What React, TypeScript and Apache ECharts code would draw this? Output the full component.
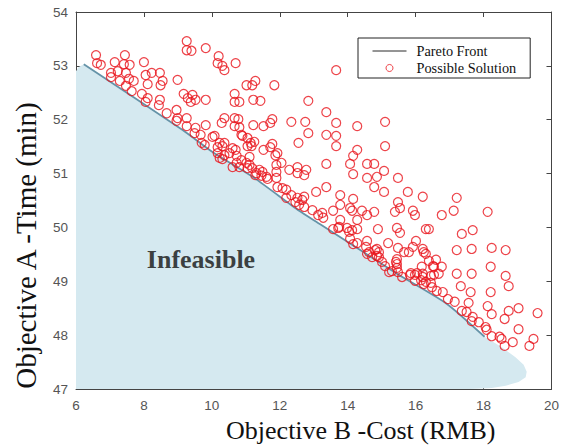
import React, { useEffect, useRef } from "react";
import * as echarts from "echarts";

// Axis ranges (tick labels 6..20 step 2, 47..54 step 1)
const costAxis = { min: 6, max: 20, step: 2 };
const timeAxis = { min: 47, max: 54, step: 1 };

const xTitle = "Objective B -Cost (RMB)";
const yTitle = "Objective A -Time (min)";
const regionLabel = "Infeasible";
const regionLabelPos = [9.68, 49.41];

// Pareto front
const paretoCost = [6.23, 9.14, 10.02, 11.2, 12.57, 13.19, 14.54, 15.45, 16.92, 18.03];
const paretoTime = [53.03, 51.81, 51.4, 50.94, 50.31, 50.06, 49.51, 49.14, 48.58, 47.97];

// Infeasible region boundary
const boundaryCost = [6, 6, 6.08, 6.23, 9.14, 10.02, 11.2, 12.57, 13.19, 14.54, 15.45, 16.92, 18.03, 18.53, 18.94, 19.18, 19.27, 19.24, 19.03, 18.65, 18.24, 17.6];
const boundaryTime = [47, 52.9, 52.98, 53.03, 51.81, 51.4, 50.94, 50.31, 50.06, 49.51, 49.14, 48.58, 47.97, 47.78, 47.59, 47.45, 47.32, 47.22, 47.13, 47.06, 47.02, 47];

// Possible solutions (cost, time)
const solutionCost = [
  6.59, 6.62, 6.73, 7.44, 7.14, 7.41, 7.58, 8.0, 7.03, 7.03, 7.23, 7.47, 7.29, 7.56, 7.7, 7.47, 7.64, 8.05, 8.23, 8.47,
  8.55, 8.49, 8.11, 8.99, 7.94, 8.11, 8.05, 8.47, 8.44, 8.67, 8.96, 8.99, 8.96, 9.26, 9.26, 9.52, 9.49, 9.82, 9.67, 9.7,
  9.79, 10.08, 10.23, 10.31, 9.17, 9.29, 9.43, 9.52, 9.38, 9.82, 9.26, 9.26, 9.4, 9.82, 10.2, 10.17, 10.31, 10.37, 10.7, 10.67,
  10.67, 10.37, 10.29, 10.67, 10.67, 10.17, 10.37, 10.52, 10.61, 11.02, 11.19, 11.28, 11.84, 10.81, 11.22, 11.43, 12.84, 13.37, 13.66, 10.78,
  10.81, 11.22, 11.52, 11.72, 11.78, 12.34, 12.75, 12.84, 13.37, 13.66, 13.66, 14.28, 15.1, 10.9, 11.05, 11.14, 11.17, 11.05, 11.52, 11.78,
  11.72, 11.93, 12.55, 13.66, 14.28, 14.16, 15.1, 10.7, 10.73, 10.02, 10.17, 10.23, 10.73, 10.87, 11.02, 11.05, 10.81, 11.19, 11.31, 11.49,
  11.61, 11.9, 11.93, 11.9, 11.87, 10.61, 11.11, 11.25, 10.37, 10.31, 11.11, 11.28, 11.4, 11.46, 11.64, 10.87, 12.05, 12.28, 12.52, 12.52,
  12.72, 12.78, 12.08, 12.19, 12.34, 12.19, 12.52, 12.66, 12.72, 12.57, 11.9, 12.46, 12.96, 13.13, 13.28, 13.78, 14.28, 13.37, 14.07, 14.16,
  14.57, 14.78, 14.57, 14.86, 15.07, 15.48, 13.37, 13.07, 13.78, 14.78, 15.07, 15.77, 16.21, 17.21, 15.48, 14.16, 13.78, 13.57, 14.07, 14.13,
  14.42, 14.57, 14.78, 15.39, 15.54, 15.92, 15.98, 16.77, 17.12, 18.12, 12.72, 13.25, 13.57, 13.72, 13.98, 14.28, 14.89, 15.45, 16.3, 16.39,
  17.36, 17.68, 14.07, 14.16, 14.28, 14.57, 14.54, 14.57, 14.86, 14.86, 14.92, 15.19, 15.48, 15.45, 15.45, 15.66, 15.92, 16.01, 16.21, 16.3,
  16.39, 16.51, 16.77, 17.21, 17.65, 18.24, 18.65, 15.01, 15.1, 15.3, 15.48, 15.6, 15.83, 15.98, 15.98, 16.18, 16.21, 16.21, 16.45, 16.68,
  16.24, 16.48, 16.62, 16.8, 16.95, 17.15, 17.21, 17.65, 17.33, 17.62, 18.21, 18.74, 17.56, 17.36, 17.5, 17.68, 17.65, 17.86, 18.06, 18.09,
  18.12, 18.24, 18.24, 18.47, 18.53, 18.62, 18.74, 19.03, 19.03, 18.62, 18.86, 19.59, 19.35, 19.47, 18.21, 18.65, 14.13, 14.04, 13.75, 14.63,
  14.81, 14.92, 14.72, 15.42, 15.8, 16.24, 15.45, 15.22, 15.86, 16.04, 16.16, 16.3, 16.45, 16.54, 16.54, 16.6, 15.54
];
const solutionTime = [
  53.2, 53.05, 53.02, 53.2, 53.07, 53.03, 53.02, 53.07, 52.87, 52.79, 52.9, 52.87, 52.72, 52.76, 52.72, 52.63, 52.53, 52.83, 52.87, 52.87,
  52.72, 52.64, 52.66, 52.74, 52.48, 52.4, 52.33, 52.37, 52.27, 52.12, 52.18, 52.03, 51.98, 52.03, 51.88, 51.85, 51.75, 51.9, 51.72, 51.57,
  51.53, 51.7, 51.57, 51.51, 52.48, 52.4, 52.46, 52.37, 52.33, 52.37, 53.46, 53.29, 53.28, 53.33, 53.18, 53.05, 53.0, 52.92, 53.05, 52.48,
  52.33, 52.03, 51.94, 52.03, 51.88, 51.38, 51.34, 51.38, 51.47, 52.64, 52.64, 52.72, 52.64, 52.33, 52.37, 52.35, 52.35, 52.14, 52.92, 52.01,
  51.86, 51.9, 51.88, 51.94, 52.01, 51.96, 51.96, 51.75, 51.72, 51.94, 51.7, 51.88, 51.96, 51.7, 51.66, 51.57, 51.51, 51.51, 51.44, 51.55,
  51.49, 51.38, 51.57, 51.51, 51.44, 51.33, 51.51, 51.44, 51.33, 51.68, 51.49, 51.29, 51.2, 51.25, 51.2, 51.1, 51.12, 51.1, 51.01, 51.03,
  50.94, 51.03, 50.75, 51.16, 51.34, 51.12, 51.31, 51.59, 51.57, 51.27, 51.16, 50.97, 51.07, 50.96, 50.9, 51.72, 51.2, 51.07, 51.12, 51.01,
  50.97, 51.07, 50.73, 50.7, 50.6, 50.55, 50.55, 50.51, 50.38, 50.42, 50.92, 50.47, 50.32, 50.23, 50.18, 50.14, 50.14, 51.18, 51.18, 50.99,
  51.18, 51.18, 50.92, 50.94, 51.05, 50.92, 50.75, 50.66, 50.6, 50.75, 50.66, 50.66, 50.57, 50.55, 50.47, 50.53, 50.42, 50.31, 50.36, 50.31,
  50.31, 50.23, 50.29, 50.29, 50.36, 50.31, 50.23, 50.23, 50.31, 50.29, 50.57, 50.27, 49.97, 49.99, 49.99, 49.97, 49.97, 49.99, 49.97, 49.97,
  49.88, 49.95, 49.79, 49.69, 49.71, 49.75, 49.64, 49.51, 49.6, 49.47, 49.45, 49.71, 49.62, 49.41, 49.32, 49.54, 49.64, 49.75, 49.6, 49.51,
  49.38, 49.28, 49.27, 49.58, 49.6, 49.62, 49.58, 49.36, 49.28, 49.19, 49.17, 49.08, 49.12, 49.12, 49.01, 49.27, 49.14, 49.08, 49.1, 49.14,
  48.95, 48.89, 48.82, 48.8, 48.67, 48.62, 49.14, 49.14, 48.91, 48.8, 48.8, 48.91, 48.6, 48.45, 48.43, 48.34, 48.26, 48.24, 48.15, 48.1,
  48.54, 48.39, 47.98, 47.97, 47.93, 48.3, 48.45, 48.5, 48.11, 47.8, 47.87, 48.41, 47.8, 47.93, 49.27, 49.1, 49.95, 49.92, 50.01, 49.54,
  49.58, 49.54, 49.45, 49.36, 49.54, 49.54, 49.25, 49.17, 49.15, 49.15, 49.02, 48.99, 48.97, 49.12, 49.27, 49.4, 49.9
];

const SERIF = "'Liberation Serif', 'Times New Roman', serif";
const SANS = "'Liberation Sans', Arial, sans-serif";
const RED = "#e8141c";
const FRAME = "#444444";

export default function App() {
  const ref = useRef<HTMLDivElement>(null);

  useEffect(() => {
    if (!ref.current) return;
    const chart = echarts.init(ref.current, undefined, { renderer: "svg" });

    const frameAxisCommon = {
      axisLine: { show: true, lineStyle: { color: FRAME, width: 1 } },
      axisTick: { show: true, inside: true, length: 5, lineStyle: { color: FRAME } },
      splitLine: { show: false },
    };

    const option: any = {
      animation: false,
      backgroundColor: "#ffffff",
      grid: { left: 76, right: 9, top: 12, bottom: 59, containLabel: false },
      legend: {
        left: 358,
        top: 38,
        orient: "vertical",
        padding: [5, 14, 2, 14],
        itemGap: 1,
        itemWidth: 34,
        itemHeight: 7,
        borderColor: "#222",
        borderWidth: 1,
        borderRadius: 0,
        backgroundColor: "#ffffff",
        lineStyle: { color: "#2a2a2a", width: 1 },
        textStyle: { fontFamily: SERIF, fontSize: 14.3, color: "#111", lineHeight: 16, padding: [0, 0, 0, 5] },
        data: [
          { name: "Pareto Front", lineStyle: { color: "#2a2a2a", width: 1 }, itemStyle: { opacity: 0 } },
          { name: "Possible Solution", icon: "circle", itemStyle: { color: "rgba(0,0,0,0)", borderColor: RED, borderWidth: 1 } },
        ],
      },
      xAxis: [
        {
          type: "value",
          position: "bottom",
          min: costAxis.min,
          max: costAxis.max,
          interval: costAxis.step,
          ...frameAxisCommon,
          axisLabel: { fontFamily: SANS, fontSize: 13.5, color: "#555", margin: 9 },
          name: xTitle,
          nameLocation: "middle",
          nameGap: 28,
          nameTextStyle: { fontFamily: SERIF, fontSize: 26, color: "#111", padding: [0, 0, 0, 94] },
        },
        {
          type: "value",
          position: "top",
          min: costAxis.min,
          max: costAxis.max,
          interval: costAxis.step,
          ...frameAxisCommon,
          axisLabel: { show: false },
        },
      ],
      yAxis: [
        {
          type: "value",
          position: "left",
          min: timeAxis.min,
          max: timeAxis.max,
          interval: timeAxis.step,
          ...frameAxisCommon,
          axisLabel: { fontFamily: SANS, fontSize: 13.5, color: "#555", margin: 8 },
          name: yTitle,
          nameLocation: "middle",
          nameGap: 36,
          nameTextStyle: { fontFamily: SERIF, fontSize: 29, color: "#111", padding: [0, 90, 0, 0] },
        },
        {
          type: "value",
          position: "right",
          min: timeAxis.min,
          max: timeAxis.max,
          interval: timeAxis.step,
          ...frameAxisCommon,
          axisLabel: { show: false },
        },
      ],
      series: [
        {
          name: "Infeasible region",
          type: "custom",
          xAxisIndex: 0,
          yAxisIndex: 0,
          silent: true,
          z: 1,
          data: [[boundaryCost[0], boundaryTime[0]]],
          renderItem: (_params: any, api: any) => {
            const pts = boundaryCost.map((c, i) => api.coord([c, boundaryTime[i]]));
            return { type: "polygon", shape: { points: pts }, style: { fill: "#d5e9f0", stroke: "none" } };
          },
        },
        {
          name: "Pareto Front",
          type: "line",
          xAxisIndex: 0,
          yAxisIndex: 0,
          z: 2,
          symbol: "none",
          smooth: 0.2,
          data: paretoCost.map((c, i) => [c, paretoTime[i]]),
          lineStyle: { color: "#6593a8", width: 1.8 },
          itemStyle: { color: "#6593a8" },
        },
        {
          name: "Possible Solution",
          type: "scatter",
          xAxisIndex: 0,
          yAxisIndex: 0,
          z: 3,
          symbol: "circle",
          symbolSize: 9,
          data: solutionCost.map((c, i) => [c, solutionTime[i]]),
          itemStyle: { color: "rgba(0,0,0,0)", borderColor: RED, borderWidth: 1.2 },
        },
        {
          name: "label",
          type: "scatter",
          xAxisIndex: 0,
          yAxisIndex: 0,
          z: 4,
          silent: true,
          symbolSize: 0,
          data: [regionLabelPos],
          label: {
            show: true,
            position: "inside",
            formatter: regionLabel,
            fontFamily: SERIF,
            fontWeight: "bold",
            fontSize: 26,
            color: "#111",
          },
        },
      ],
    };

    chart.setOption(option);
    return () => chart.dispose();
  }, []);

  return <div ref={ref} style={{ position: "fixed", left: 0, top: 0, width: 562, height: 448 }} />;
}
